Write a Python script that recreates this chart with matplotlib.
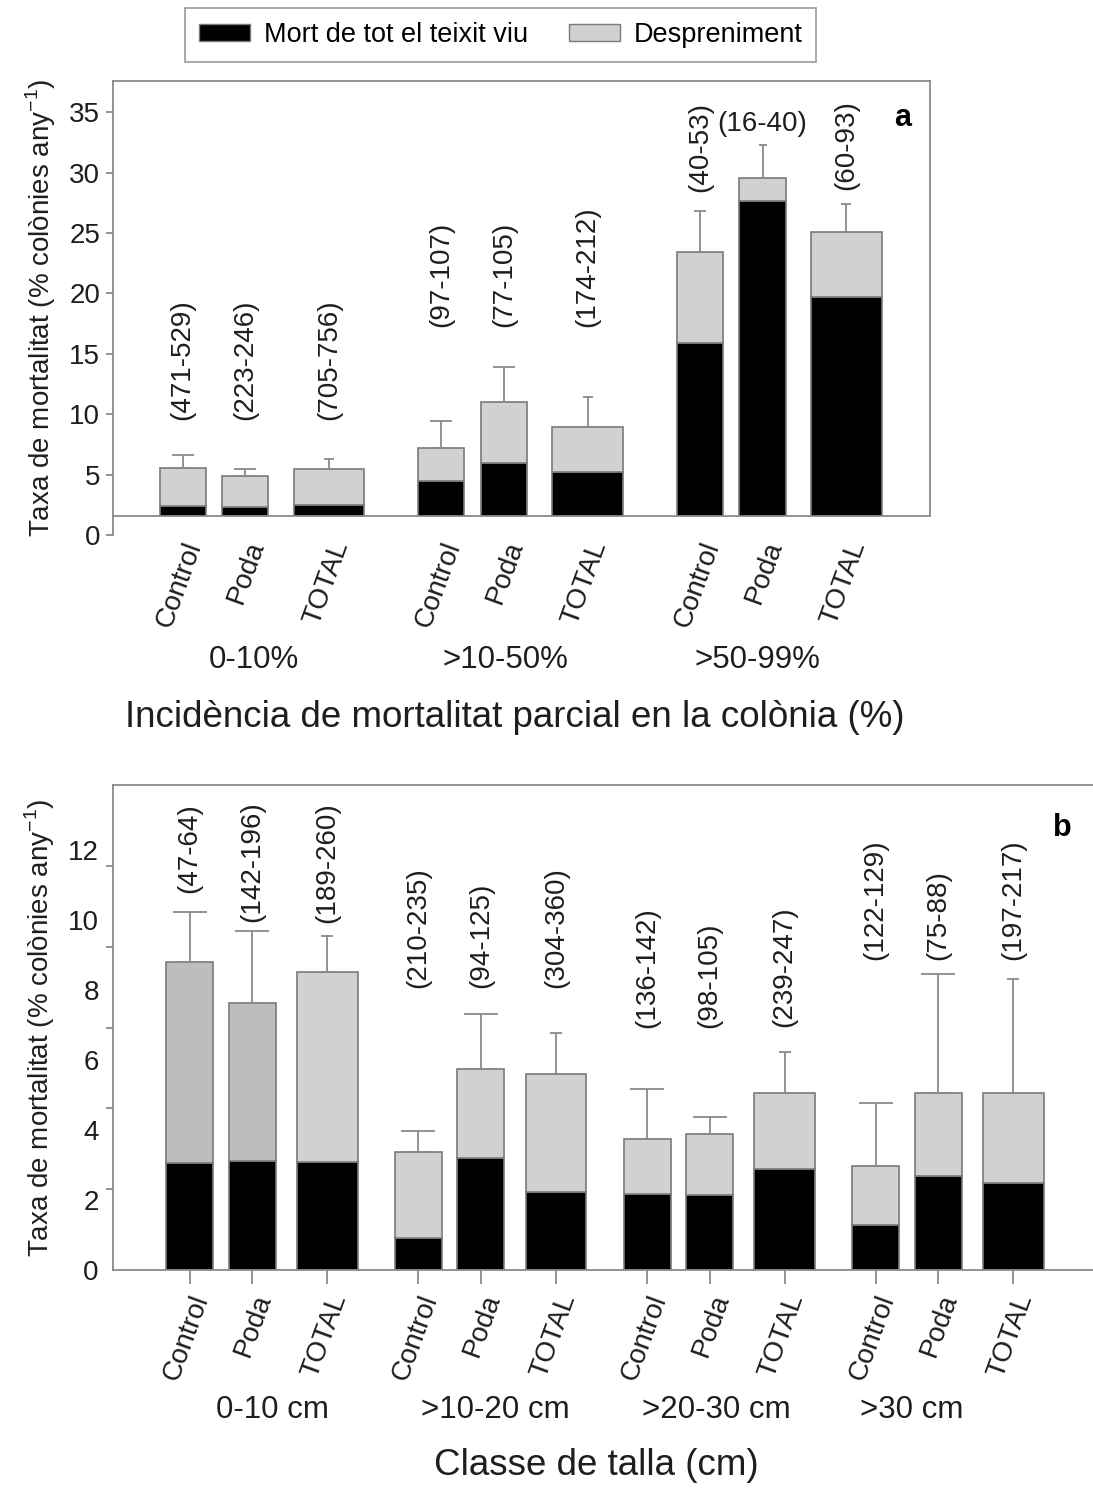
import matplotlib.pyplot as plt
import numpy as np
from matplotlib.patches import Patch

plt.rcParams['font.family'] = ['Liberation Sans', 'DejaVu Sans']
plt.rcParams['mathtext.fontset'] = 'custom'
plt.rcParams['mathtext.rm'] = 'Liberation Sans'

# --- data ---
cats = ['Control', 'Poda', 'TOTAL']

# panel a: incidence of partial mortality
groups_a = ['0-10%', '>10-50%', '>50-99%']
mort_a = [2.40, 2.35, 2.49, 4.48, 5.99, 5.19, 15.88, 27.68, 19.67]
desp_a = [3.12, 2.57, 2.95, 2.70, 4.98, 3.79, 7.52, 1.88, 5.39]
se_a = [1.11, 0.55, 0.83, 2.27, 2.98, 2.48, 3.40, 2.76, 2.34]
n_a = ['(471-529)', '(223-246)', '(705-756)',
       '(97-107)', '(77-105)', '(174-212)',
       '(40-53)', '(16-40)', '(60-93)']

# panel b: size class
groups_b = ['0-10 cm', '>10-20 cm', '>20-30 cm', '>30 cm']
mort_b = [3.05, 3.12, 3.10, 0.92, 3.19, 2.24, 2.16, 2.14, 2.89, 1.30, 2.70, 2.50]
desp_b = [5.76, 4.52, 5.43, 2.46, 2.55, 3.35, 1.58, 1.76, 2.18, 1.68, 2.37, 2.57]
se_b = [1.43, 2.06, 1.03, 0.59, 1.58, 1.19, 1.43, 0.46, 1.17, 1.80, 3.39, 3.26]
n_b = ['(47-64)', '(142-196)', '(189-260)',
       '(210-235)', '(94-125)', '(304-360)',
       '(136-142)', '(98-105)', '(239-247)',
       '(122-129)', '(75-88)', '(197-217)']

# --- style ---
BLACK = '#000000'
LGRAY = '#d0d1d0'
DGRAY = '#bdbdbd'
EDGE = '#7a7a7a'
AXC = '#8a8a8a'
TXT = '#1e1e1e'
FS = 20

fig = plt.figure(figsize=(10.93, 14.88), dpi=100)
ax1 = fig.add_axes([0.1031, 0.6405, 0.7478, 0.3051])
ax2 = fig.add_axes([0.1031, 0.1465, 0.8969, 0.3259])


def positions(ngroups, step, offs):
    return np.array([g * step + o for g in range(ngroups) for o in offs])


def draw(ax, x, widths, mort, desp, se, caps, gray_cols):
    mort = np.array(mort)
    desp = np.array(desp)
    ax.bar(x, mort, width=widths, color=BLACK, edgecolor=EDGE, lw=1.2, zorder=2)
    ax.bar(x, desp, bottom=mort, width=widths, color=gray_cols, edgecolor=EDGE,
           lw=1.2, zorder=2)
    top = mort + desp
    for xi, ti, si, ci in zip(x, top, se, caps):
        ax.errorbar(xi, ti, yerr=[[0], [si]], fmt='none', ecolor=AXC,
                    elinewidth=1.3, capsize=ci, capthick=1.3, zorder=3)


# ---------------- panel a ----------------
xa = positions(3, 4.14, [0, 1, 2.34])
wa = [0.74, 0.74, 1.13] * 3
caps_a = [8, 8, 3.5, 8, 8, 3.5, 4.5, 3.2, 3.5]
draw(ax1, xa, wa, mort_a, desp_a, se_a, caps_a, [LGRAY] * 9)

base_a = 1.6
ax1.axhspan(0, base_a, color='white', zorder=2.2, lw=0)
ax1.set_xlim(-1.12, 11.96)
ax1.set_ylim(0, 37.6)
ax1.spines['bottom'].set_position(('data', base_a))
ax1.spines['right'].set_bounds(base_a, 37.6)
for s in ax1.spines.values():
    s.set_color(AXC)
    s.set_linewidth(1.3)
ax1.set_yticks(np.arange(0, 36, 5))
ax1.tick_params(axis='y', direction='out', length=5, width=1.3, color=AXC,
                labelsize=FS, labelcolor=TXT, pad=4)
ax1.set_xticks(xa, cats * 3, rotation=70, ha='right', rotation_mode='anchor')
ax1.tick_params(axis='x', direction='out', length=11, width=1.3, color=AXC,
                labelsize=FS, labelcolor=TXT, pad=5)

lab_a = [9.5, 9.5, 9.5, 17.2, 17.2, 17.2, 28.4, None, 28.6]
for xi, yl, t in zip(xa, lab_a, n_a):
    if yl is None:
        ax1.text(xi, 34.0, t, ha='center', va='center', fontsize=FS, color=TXT)
    else:
        ax1.text(xi, yl, t, rotation=90, ha='center', va='bottom',
                 fontsize=FS, color=TXT)

for xg, g in zip([1.14, 5.16, 9.19], groups_a):
    ax1.text(xg, -0.275, g, transform=ax1.get_xaxis_transform(), ha='center',
             va='center', fontsize=22.5, color=TXT)
ax1.text(0.492, -0.403, 'Incidència de mortalitat parcial en la colònia (%)',
         transform=ax1.transAxes, ha='center', va='center', fontsize=26.5, color=TXT)
ax1.text(0.967, 0.918, 'a', transform=ax1.transAxes, ha='center', va='center',
         fontsize=22, fontweight='bold')
ax1.set_ylabel('Taxa de mortalitat (% colònies any$^{\\mathregular{-1}}$)',
               fontsize=FS, color=TXT, labelpad=8)

# ---------------- panel b ----------------
xb = positions(4, 3.653, [0, 1, 2.197])
wb = [0.75, 0.75, 0.97] * 4
caps_b = [12, 12, 4.5] * 4
gray_b = [DGRAY, DGRAY] + [LGRAY] * 10
draw(ax2, xb, wb, mort_b, desp_b, se_b, caps_b, gray_b)

ax2.set_xlim(-1.23, 14.43)
ax2.set_ylim(0, 13.86)
ax2.spines['right'].set_visible(False)
for s in ax2.spines.values():
    s.set_color(AXC)
    s.set_linewidth(1.3)
ax2.set_yticks(np.arange(0, 13, 2))
ax2.set_yticks([0, 2.31, 4.62, 6.93, 9.24, 11.55], minor=True)
ax2.tick_params(axis='y', which='major', length=0, labelsize=FS,
                labelcolor=TXT, pad=10)
ax2.tick_params(axis='y', which='minor', direction='out', length=5, width=1.3,
                color=AXC)
ax2.set_xticks(xb, cats * 4, rotation=70, ha='right', rotation_mode='anchor')
ax2.tick_params(axis='x', direction='out', length=10, width=1.3, color=AXC,
                labelsize=FS, labelcolor=TXT, pad=5)

lab_b = [10.77, 9.94, 9.91, 8.06, 8.06, 8.06, 6.91, 6.91, 6.95, 8.86, 8.86, 8.86]
for xi, yl, t in zip(xb, lab_b, n_b):
    ax2.text(xi, yl, t, rotation=90, ha='center', va='bottom', fontsize=FS,
             color=TXT)

for xg, g in zip([1.32, 4.88, 8.41, 11.54], groups_b):
    ax2.text(xg, -0.289, g, transform=ax2.get_xaxis_transform(), ha='center',
             va='center', fontsize=22.5, color=TXT)
ax2.text(0.493, -0.404, 'Classe de talla (cm)', transform=ax2.transAxes,
         ha='center', va='center', fontsize=26.5, color=TXT)
ax2.text(0.969, 0.911, 'b', transform=ax2.transAxes, ha='center', va='center',
         fontsize=22, fontweight='bold')
ax2.set_ylabel('Taxa de mortalitat (% colònies any$^{\\mathregular{-1}}$)',
               fontsize=FS, color=TXT, labelpad=8)

# legend
handles = [Patch(facecolor=BLACK, edgecolor=EDGE, label='Mort de tot el teixit viu'),
           Patch(facecolor=LGRAY, edgecolor=EDGE, label='Despreniment')]
leg = fig.legend(handles=handles, loc='center', bbox_to_anchor=(0.458, 1 - 35 / 1488),
                 ncol=2, fontsize=19.5, frameon=True, fancybox=False,
                 handlelength=1.9, handleheight=0.55, columnspacing=1.5,
                 borderpad=0.5, handletextpad=0.5)
leg.get_frame().set_edgecolor(AXC)
leg.get_frame().set_linewidth(1.3)

fig.savefig('out.png', dpi=100)
